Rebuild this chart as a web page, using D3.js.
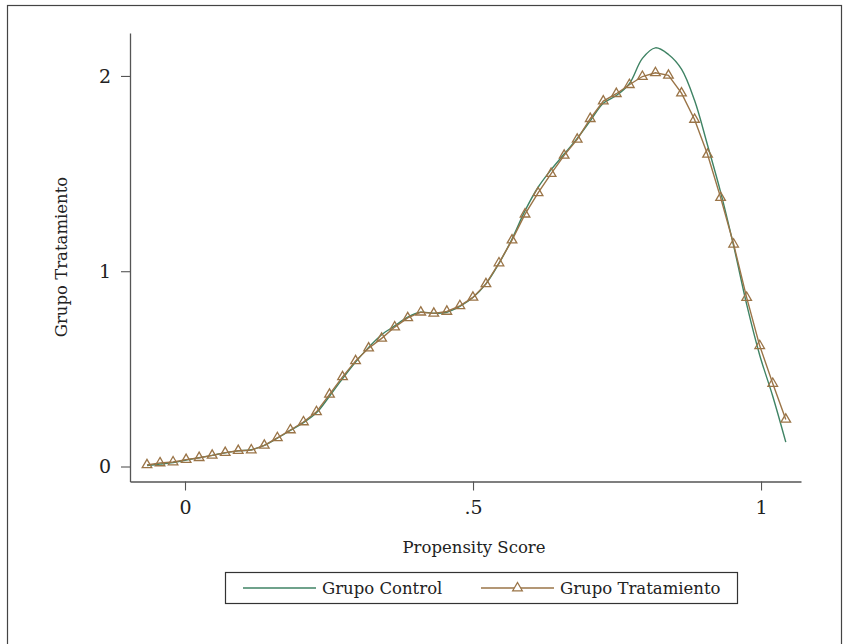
<!DOCTYPE html>
<html>
<head>
<meta charset="utf-8">
<script src="https://cdn.jsdelivr.net/npm/d3@7"></script>
<style>
  html, body { margin: 0; padding: 0; background: #fff; }
  svg { display: block; }
  text { font-family: "DejaVu Serif", serif; fill: #222; }
</style>
</head>
<body>
<svg id="chart" width="846" height="644"></svg>
<script>
// ---- data (kdensity evaluated on a 50-point grid) ----
const xStart = -0.066, xEnd = 1.043, nPoints = 50;
const gridX = d3.range(nPoints).map(i => xStart + i * (xEnd - xStart) / (nPoints - 1));

const tratamiento = [
  0.008, 0.018, 0.023, 0.035, 0.045, 0.057, 0.071, 0.081, 0.084, 0.108,
  0.147, 0.187, 0.228, 0.280, 0.369, 0.459, 0.541, 0.606, 0.656, 0.714,
  0.761, 0.790, 0.784, 0.794, 0.823, 0.866, 0.935, 1.042, 1.159, 1.292,
  1.401, 1.500, 1.593, 1.675, 1.781, 1.871, 1.909, 1.955, 1.997, 2.016,
  2.003, 1.912, 1.777, 1.598, 1.377, 1.138, 0.865, 0.618, 0.425, 0.241
];
const control = [
  0.005, 0.012, 0.020, 0.033, 0.045, 0.057, 0.070, 0.080, 0.086, 0.108,
  0.145, 0.185, 0.225, 0.275, 0.360, 0.450, 0.535, 0.610, 0.675, 0.720,
  0.765, 0.790, 0.785, 0.790, 0.820, 0.865, 0.935, 1.040, 1.165, 1.310,
  1.430, 1.520, 1.600, 1.680, 1.770, 1.860, 1.900, 1.960, 2.090, 2.144,
  2.110, 2.035, 1.875, 1.645, 1.405, 1.130, 0.830, 0.570, 0.360, 0.125
];
const xTicks = [0, 0.5, 1];
const xTickLabels = ["0", ".5", "1"];
const yTicks = [0, 1, 2];
const yTickLabels = ["0", "1", "2"];
const seriesNames = ["Grupo Control", "Grupo Tratamiento"];
const xTitle = "Propensity Score";
const yTitle = "Grupo Tratamiento";

// ---- styles ----
const colControl = "#3f8364";
const colTrat = "#9a7447";
const axisCol = "#555";

const svg = d3.select("#chart");

// outer border
svg.append("rect").attr("x", 7.5).attr("y", 5.5).attr("width", 834).attr("height", 660)
  .attr("fill", "none").attr("stroke", "#444").attr("stroke-width", 1.2);

const x = d3.scaleLinear().domain([-0.0955, 1.0694]).range([130, 801]);
const y = d3.scaleLinear().domain([-0.0768, 2.2199]).range([481.5, 33]);

// axes
const xAxis = d3.axisBottom(x).tickValues(xTicks)
  .tickFormat((d, i) => xTickLabels[i]).tickSize(9).tickSizeOuter(0).tickPadding(10);
const yAxis = d3.axisLeft(y).tickValues(yTicks)
  .tickFormat((d, i) => yTickLabels[i]).tickSize(9).tickSizeOuter(0).tickPadding(10);

const gx = svg.append("g").attr("transform", "translate(0,481.5)").call(xAxis);
const gy = svg.append("g").attr("transform", "translate(130,0)").call(yAxis);
[gx, gy].forEach(g => {
  g.select(".domain").attr("stroke", axisCol).attr("stroke-width", 1.3);
  g.selectAll(".tick line").attr("stroke", axisCol).attr("stroke-width", 1.1);
  g.selectAll(".tick text").style("font-family", "DejaVu Serif").style("font-size", "19px").attr("fill", "#222");
});

// titles
svg.append("text").attr("x", 474).attr("y", 553).attr("text-anchor", "middle")
  .style("font-size", "16.5px").text(xTitle);
svg.append("text").attr("transform", "translate(67,257) rotate(-90)").attr("text-anchor", "middle")
  .style("font-size", "16.5px").text(yTitle);

// lines
const lineC = d3.line().x((d, i) => x(gridX[i])).y(d => y(d)).curve(d3.curveCatmullRom);
const lineT = d3.line().x((d, i) => x(gridX[i])).y(d => y(d));

svg.append("path").datum(control).attr("d", lineC)
  .attr("fill", "none").attr("stroke", colControl).attr("stroke-width", 1.4);
svg.append("path").datum(tratamiento).attr("d", lineT)
  .attr("fill", "none").attr("stroke", colTrat).attr("stroke-width", 1.4);

const tri = d3.symbol().type(d3.symbolTriangle).size(40);
svg.append("g").selectAll("path").data(tratamiento).join("path")
  .attr("transform", (d, i) => `translate(${x(gridX[i])},${y(d)})`)
  .attr("d", tri).attr("fill", "none").attr("stroke", colTrat).attr("stroke-width", 1.3);

// legend
const lg = svg.append("g");
lg.append("rect").attr("x", 225.5).attr("y", 572.5).attr("width", 512).attr("height", 31)
  .attr("fill", "#fff").attr("stroke", "#333").attr("stroke-width", 1.2);
lg.append("line").attr("x1", 243).attr("x2", 316).attr("y1", 588).attr("y2", 588)
  .attr("stroke", colControl).attr("stroke-width", 1.4);
lg.append("text").attr("x", 322).attr("y", 594).style("font-size", "16.5px").text(seriesNames[0]);
lg.append("line").attr("x1", 481).attr("x2", 554).attr("y1", 588).attr("y2", 588)
  .attr("stroke", colTrat).attr("stroke-width", 1.4);
lg.append("path").attr("transform", "translate(517.5,588)").attr("d", tri)
  .attr("fill", "#fff").attr("stroke", colTrat).attr("stroke-width", 1.3);
lg.append("text").attr("x", 560).attr("y", 594).style("font-size", "16.5px").text(seriesNames[1]);
</script>
</body>
</html>
